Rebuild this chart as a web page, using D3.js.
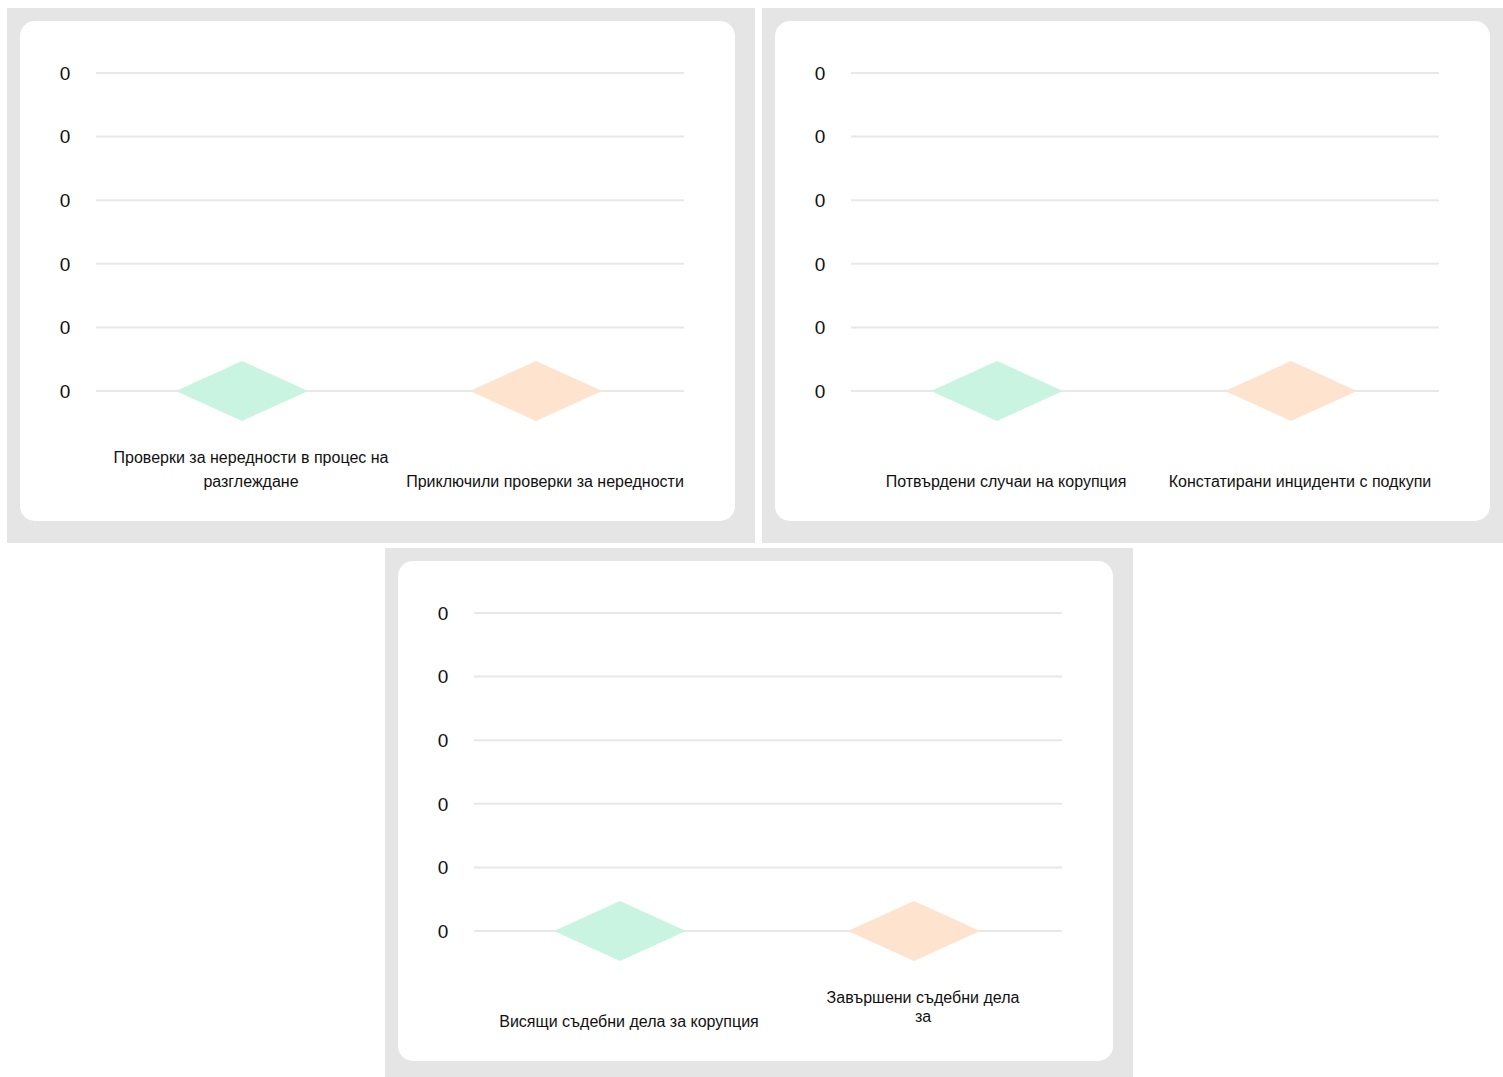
<!doctype html>
<html>
<head>
  <meta charset="utf-8">
  <script src="https://d3js.org/d3.v7.min.js"></script>
  <style>
    body {margin: 0; background: #fff; overflow: hidden;}
    text {font-family: "Liberation Sans", Arial, sans-serif; fill: #111;}
  </style>
</head>
<body>
  <svg id="chart" width="1503" height="1077"></svg>
  <script>
    // data (all values are zero)
    const chart1Categories = ["Проверки за нередности в процес на\nразглеждане", "Приключили проверки за нередности"]
    const chart1Values = [0, 0]
    const chart2Categories = ["Потвърдени случаи на корупция", "Констатирани инциденти с подкупи"]
    const chart2Values = [0, 0]
    const chart3Categories = ["Висящи съдебни дела за корупция", "Завършени съдебни дела\nза"]
    const chart3Values = [0, 0]
    const yTickValues = [0, 0.2, 0.4, 0.6, 0.8, 1]
    const yTickLabels = ["0", "0", "0", "0", "0", "0"]
    const colors = ["#c9f4e1", "#fee3cf"]

    const svg = d3.select('#chart')

    const panels = [
      {x: 7, y: 8, cats: chart1Categories, vals: chart1Values, lh: 24},
      {x: 762, y: 8, cats: chart2Categories, vals: chart2Values, lh: 24},
      {x: 385, y: 548, cats: chart3Categories, vals: chart3Values, lh: 19}
    ]

    panels.forEach(p => {
      const g = svg.append('g').attr('transform', `translate(${p.x},${p.y})`)
      g.append('rect').attr('width', 748).attr('height', 535).attr('fill', '#e5e5e5')
      const card = g.append('g').attr('transform', 'translate(13,13)')
      card.append('rect').attr('width', 715).attr('height', 500).attr('rx', 15).attr('fill', '#fff')

      const y = d3.scaleLinear().domain([0, 1]).range([370, 52])
      const x = d3.scaleBand().domain(p.cats).range([76, 664])

      // grid
      card.selectAll('line.grid')
        .data(yTickValues)
        .join('line')
        .attr('class', 'grid')
        .attr('x1', 76).attr('x2', 664)
        .attr('y1', d => y(d)).attr('y2', d => y(d))
        .attr('stroke', '#e8e8e8')
        .attr('stroke-width', 2)

      card.selectAll('text.ytick')
        .data(yTickValues)
        .join('text')
        .attr('class', 'ytick')
        .attr('x', 45)
        .attr('y', d => y(d))
        .attr('dy', '0.36em')
        .attr('text-anchor', 'middle')
        .attr('font-size', 19)
        .text((d, i) => yTickLabels[i])

      // diamond markers
      const dw = 66, dh = 30
      card.selectAll('path.mark')
        .data(p.vals)
        .join('path')
        .attr('class', 'mark')
        .attr('d', (d, i) => {
          const cx = x(p.cats[i]) + x.bandwidth() / 2 - 1, cy = y(d)
          return `M${cx - dw},${cy}L${cx},${cy - dh}L${cx + dw},${cy}L${cx},${cy + dh}Z`
        })
        .attr('fill', (d, i) => colors[i])

      // category labels
      p.cats.forEach(c => {
        const lines = c.split('\n')
        const t = card.append('text')
          .attr('text-anchor', 'middle')
          .attr('font-size', 16)
        lines.forEach((l, j) => {
          t.append('tspan')
            .attr('x', x(c) + x.bandwidth() / 2 + 8)
            .attr('y', (lines.length > 1 ? 436 : 460) + j * p.lh)
            .attr('dy', '0.36em')
            .text(l)
        })
      })
    })
  </script>
</body>
</html>
